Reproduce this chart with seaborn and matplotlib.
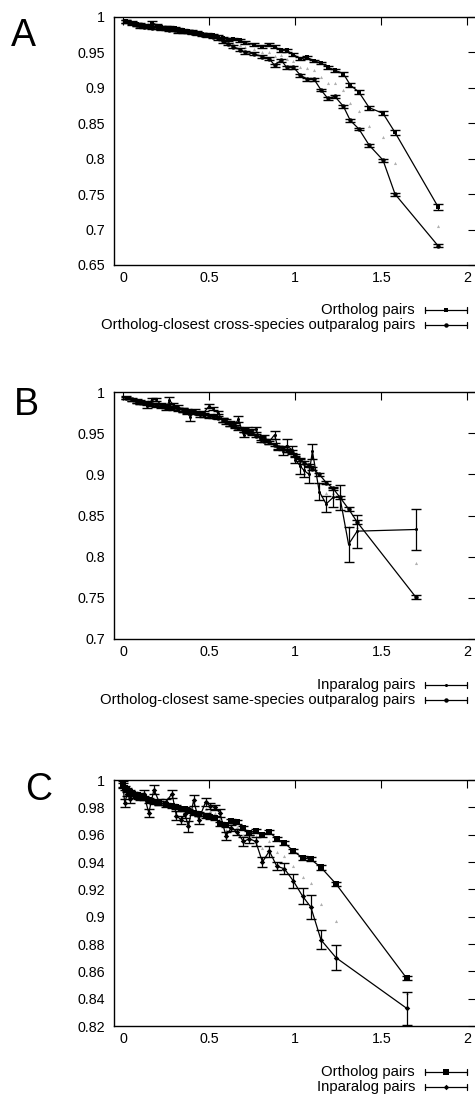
import matplotlib
matplotlib.use("Agg")
import matplotlib.pyplot as plt
from matplotlib.lines import Line2D
import seaborn as sns

# ---- panel A ----
a_x = [0.02, 0.05, 0.08, 0.10, 0.12, 0.15, 0.17, 0.20, 0.22, 0.25, 0.27, 0.30, 0.32, 0.35, 0.38, 0.40,
       0.43, 0.46, 0.49, 0.52, 0.55, 0.58, 0.61, 0.64, 0.68, 0.71, 0.76, 0.81, 0.85, 0.88, 0.92, 0.95,
       0.99, 1.03, 1.07, 1.11, 1.15, 1.19, 1.23, 1.28, 1.32, 1.37, 1.43, 1.51, 1.58, 1.83]
a_orth = [0.994, 0.992, 0.990, 0.989, 0.988, 0.987, 0.992, 0.988, 0.986, 0.985, 0.985, 0.984, 0.982, 0.981,
          0.980, 0.979, 0.978, 0.976, 0.975, 0.974, 0.972, 0.970, 0.968, 0.969, 0.967, 0.964, 0.961, 0.958,
          0.961, 0.958, 0.953, 0.953, 0.947, 0.941, 0.943, 0.938, 0.935, 0.929, 0.925, 0.920, 0.904, 0.894,
          0.872, 0.864, 0.837, 0.732]
a_orth_err = [0.002] * 39 + [0.003, 0.003, 0.003, 0.003, 0.003, 0.003, 0.004]
a_out = [0.994, 0.991, 0.989, 0.987, 0.986, 0.986, 0.985, 0.985, 0.984, 0.983, 0.982, 0.982, 0.980, 0.980,
         0.979, 0.978, 0.977, 0.975, 0.974, 0.972, 0.970, 0.966, 0.962, 0.958, 0.954, 0.950, 0.948, 0.944,
         0.941, 0.932, 0.939, 0.929, 0.929, 0.918, 0.912, 0.912, 0.897, 0.885, 0.888, 0.874, 0.854, 0.842,
         0.819, 0.798, 0.750, 0.677]
a_out_err = [0.002] * 46
a_gray_x = [0.58, 0.61, 0.64, 0.68, 0.71, 0.76, 0.81, 0.85, 0.88, 0.92, 0.95, 0.99, 1.03, 1.07, 1.11,
            1.15, 1.19, 1.23, 1.28, 1.32, 1.37, 1.43, 1.51, 1.58, 1.83]
a_gray = [0.968, 0.965, 0.9635, 0.9605, 0.957, 0.9545, 0.951, 0.951, 0.945, 0.946, 0.941, 0.938, 0.9295,
          0.9275, 0.925, 0.916, 0.907, 0.9065, 0.897, 0.879, 0.868, 0.8455, 0.831, 0.7935, 0.7045]

# ---- panel B ----
b_x = [0.02, 0.05, 0.08, 0.10, 0.12, 0.14, 0.17, 0.19, 0.22, 0.25, 0.27, 0.29, 0.32, 0.35, 0.37, 0.39,
       0.42, 0.45, 0.47, 0.50, 0.52, 0.55, 0.58, 0.60, 0.62, 0.65, 0.67, 0.70, 0.72, 0.75, 0.77, 0.80,
       0.82, 0.85, 0.88, 0.90, 0.93, 0.95, 0.98, 1.00, 1.03, 1.05, 1.08, 1.10, 1.14, 1.18, 1.22, 1.26,
       1.31, 1.36, 1.70]
b_inpar = [0.993, 0.990, 0.988, 0.987, 0.986, 0.983, 0.991, 0.991, 0.985, 0.980, 0.990, 0.985, 0.982,
           0.978, 0.975, 0.970, 0.977, 0.972, 0.975, 0.983, 0.980, 0.975, 0.966, 0.965, 0.962, 0.960,
           0.967, 0.948, 0.955, 0.952, 0.955, 0.942, 0.945, 0.940, 0.948, 0.932, 0.929, 0.935, 0.930,
           0.918, 0.910, 0.905, 0.900, 0.928, 0.879, 0.864, 0.872, 0.872, 0.815, 0.831, 0.833]
b_inpar_err = [0.001, 0.001, 0.001, 0.001, 0.001, 0.003, 0.002, 0.002, 0.002, 0.002, 0.004, 0.002, 0.002,
               0.002, 0.002, 0.005, 0.002, 0.002, 0.002, 0.003, 0.002, 0.002, 0.002, 0.002, 0.003, 0.002,
               0.004, 0.003, 0.002, 0.003, 0.003, 0.003, 0.003, 0.003, 0.005, 0.003, 0.006, 0.008, 0.004,
               0.004, 0.009, 0.008, 0.010, 0.009, 0.010, 0.010, 0.012, 0.015, 0.021, 0.020, 0.025]
b_outpar = [0.993, 0.991, 0.989, 0.988, 0.987, 0.986, 0.985, 0.984, 0.983, 0.982, 0.981, 0.980, 0.979,
            0.978, 0.977, 0.976, 0.975, 0.974, 0.972, 0.971, 0.970, 0.969, 0.966, 0.963, 0.961, 0.958,
            0.956, 0.954, 0.952, 0.950, 0.947, 0.944, 0.941, 0.939, 0.936, 0.933, 0.931, 0.929, 0.927,
            0.923, 0.918, 0.914, 0.911, 0.907, 0.900, 0.890, 0.883, 0.872, 0.858, 0.842, 0.751]
b_outpar_err = [0.002] * 51
b_gray_x = [1.14, 1.18, 1.22, 1.26, 1.31, 1.36, 1.70]
b_gray = [0.890, 0.877, 0.877, 0.872, 0.836, 0.836, 0.792]

# ---- panel C ----
c_x = [0.0, 0.01, 0.025, 0.04, 0.06, 0.087, 0.10, 0.12, 0.15, 0.18, 0.21, 0.25, 0.285, 0.31, 0.336,
       0.36, 0.38, 0.41, 0.44, 0.48, 0.505, 0.534, 0.563, 0.598, 0.629, 0.664, 0.699, 0.734, 0.771,
       0.81, 0.85, 0.893, 0.938, 0.99, 1.043, 1.091, 1.15, 1.237, 1.647]
c_orth = [0.996, 0.994, 0.993, 0.991, 0.990, 0.989, 0.988, 0.987, 0.985, 0.984, 0.983, 0.982, 0.981,
          0.980, 0.979, 0.979, 0.977, 0.976, 0.975, 0.974, 0.973, 0.972, 0.968, 0.967, 0.970, 0.969,
          0.965, 0.961, 0.963, 0.960, 0.962, 0.957, 0.954, 0.948, 0.943, 0.942, 0.936, 0.924, 0.855]
c_orth_err = [0.0015] * 39
c_inpar = [0.997, 0.983, 0.990, 0.986, 0.989, 0.988, 0.987, 0.990, 0.976, 0.993, 0.984, 0.984, 0.990,
           0.974, 0.971, 0.975, 0.966, 0.985, 0.971, 0.984, 0.981, 0.980, 0.976, 0.959, 0.965, 0.962,
           0.955, 0.957, 0.955, 0.940, 0.948, 0.937, 0.935, 0.926, 0.915, 0.907, 0.883, 0.870, 0.833]
c_inpar_err = [0.002, 0.003, 0.002, 0.003, 0.002, 0.002, 0.002, 0.003, 0.003, 0.003, 0.002, 0.002, 0.003,
               0.003, 0.003, 0.003, 0.004, 0.004, 0.003, 0.003, 0.002, 0.002, 0.003, 0.003, 0.002, 0.002,
               0.003, 0.003, 0.003, 0.004, 0.004, 0.003, 0.004, 0.005, 0.006, 0.009, 0.007, 0.009, 0.012]
c_gray_x = [0.48, 0.505, 0.534, 0.563, 0.598, 0.629, 0.664, 0.699, 0.734, 0.771, 0.81, 0.85, 0.893,
            0.938, 0.99, 1.043, 1.091, 1.15, 1.237, 1.647]
c_gray = [0.979, 0.977, 0.976, 0.972, 0.9635, 0.9675, 0.9655, 0.960, 0.959, 0.959, 0.950, 0.955, 0.947,
          0.9445, 0.937, 0.929, 0.9245, 0.9095, 0.897, 0.844]

x_ticks = [0, 0.5, 1, 1.5, 2]
a_yticks = [0.65, 0.7, 0.75, 0.8, 0.85, 0.9, 0.95, 1]
b_yticks = [0.7, 0.75, 0.8, 0.85, 0.9, 0.95, 1]
c_yticks = [0.82, 0.84, 0.86, 0.88, 0.9, 0.92, 0.94, 0.96, 0.98, 1]

W, H = 475, 1097
FS = 10.3
LEG_FS = 10.7

sns.set_style("white")
plt.rcParams['font.family'] = ['Liberation Sans', 'DejaVu Sans']
plt.rcParams['text.color'] = 'k'

fig = plt.figure(figsize=(W / 100, H / 100), dpi=100)


def fx(px):
    return px / W


def fy(py):
    return 1 - py / H


def draw_panel(top, bottom, yticks, series, gx, gy):
    ax = fig.add_axes([fx(114), fy(bottom), fx(476) - fx(114), (bottom - top) / H])
    sns.scatterplot(x=gx, y=gy, ax=ax, color='#b0b0b0', marker='^', s=5, linewidth=0, legend=False)
    for x, y, err, mk, ms in series:
        sns.lineplot(x=x, y=y, ax=ax, color='k', lw=0.9, marker=mk, markersize=ms,
                     markeredgewidth=0, estimator=None, sort=False, legend=False)
        ax.errorbar(x, y, yerr=err, fmt='none', ecolor='k', elinewidth=0.9, capsize=3.3, capthick=1.0)
    ax.set_xlim(-0.052, 2.05)
    ax.set_ylim(yticks[0], yticks[-1])
    ax.set_xticks(x_ticks)
    ax.set_xticklabels(['%g' % t for t in x_ticks])
    ax.set_yticks(yticks)
    ax.set_yticklabels(['%g' % t for t in yticks])
    ax.tick_params(axis='both', direction='in', length=5.5, width=0.8, top=True, right=True,
                   labelsize=FS, colors='k')
    ax.tick_params(axis='y', pad=6.5)
    ax.tick_params(axis='x', pad=4.5)
    for sp in ax.spines.values():
        sp.set_visible(True)
        sp.set_color('k')
        sp.set_linewidth(1.0)
    return ax


def legend_row(py, text, mk, ms):
    fig.text(fx(415), fy(py), text, ha='right', va='center', fontsize=LEG_FS, color='k')
    fig.add_artist(Line2D([fx(425), fx(467)], [fy(py), fy(py)], color='k', lw=0.9))
    for ex in (425, 467):
        fig.add_artist(Line2D([fx(ex), fx(ex)], [fy(py - 3), fy(py + 3)], color='k', lw=0.9))
    fig.add_artist(Line2D([fx(446)], [fy(py)], marker=mk, markersize=ms, color='k', lw=0,
                          markeredgewidth=0))


draw_panel(17, 265, a_yticks,
           [(a_x, a_orth, a_orth_err, 's', 2.8), (a_x, a_out, a_out_err, 'o', 3.2)],
           a_gray_x, a_gray)
draw_panel(392, 639, b_yticks,
           [(b_x, b_inpar, b_inpar_err, 'o', 2.2), (b_x, b_outpar, b_outpar_err, 'o', 3.2)],
           b_gray_x, b_gray)
draw_panel(780, 1026, c_yticks,
           [(c_x, c_orth, c_orth_err, 's', 4.8), (c_x, c_inpar, c_inpar_err, 'D', 2.8)],
           c_gray_x, c_gray)

legend_row(310, "Ortholog pairs", 's', 2.8)
legend_row(325, "Ortholog-closest cross-species outparalog pairs", 'o', 3.2)
legend_row(685, "Inparalog pairs", 'o', 2.2)
legend_row(700, "Ortholog-closest same-species outparalog pairs", 'o', 3.2)
legend_row(1072, "Ortholog pairs", 's', 4.8)
legend_row(1087, "Inparalog pairs", 'D', 2.8)

fig.text(fx(23), fy(36), "A", ha='center', va='center', fontsize=27, color='k')
fig.text(fx(26), fy(405), "B", ha='center', va='center', fontsize=27, color='k')
fig.text(fx(39), fy(790), "C", ha='center', va='center', fontsize=27, color='k')

fig.savefig("out.png", dpi=100)
